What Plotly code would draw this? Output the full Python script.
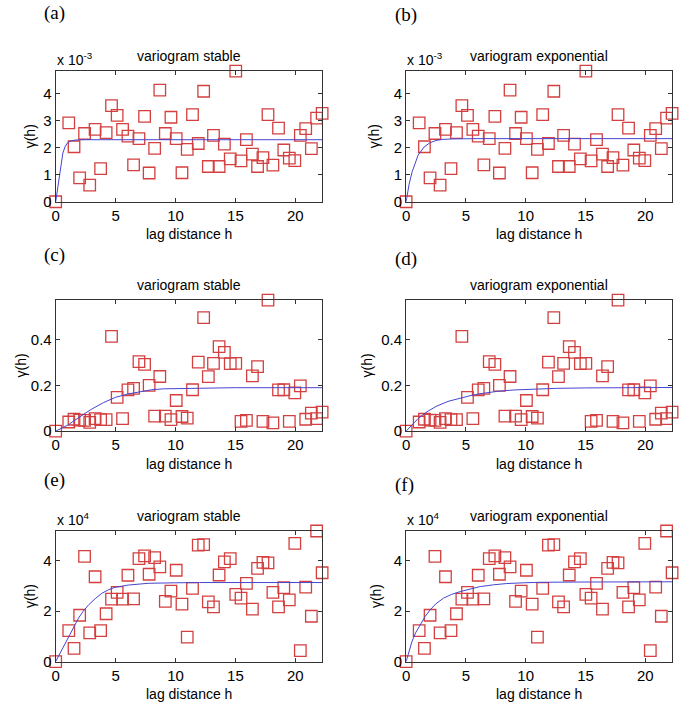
import plotly.graph_objects as go

W, H = 685, 716

# ---------------- data ----------------
lags = [0, 1.09, 1.53, 2.0, 2.41, 2.84, 3.29, 3.75, 4.21, 4.66, 5.13, 5.58, 6.03, 6.5,
        6.95, 7.42, 7.8, 8.26, 8.69, 9.15, 9.62, 10.06, 10.54, 10.98, 11.42, 11.9, 12.35,
        12.74, 13.17, 13.64, 14.08, 14.57, 15.03, 15.47, 15.92, 16.42, 16.85, 17.3, 17.72,
        18.13, 18.6, 19.04, 19.5, 19.96, 20.42, 20.87, 21.34, 21.78, 22.24]

# experimental variogram, dataset 1 (units of 1e-3)
gamma1 = [0, 2.91, 2.03, 0.88, 2.52, 0.61, 2.67, 1.22, 2.55, 3.55, 3.19, 2.67, 2.42, 1.36,
          2.33, 3.15, 1.06, 1.97, 4.12, 2.52, 3.12, 2.33, 1.07, 1.93, 3.22, 2.15, 4.08,
          1.30, 2.45, 1.30, 2.13, 1.58, 4.82, 1.51, 2.29, 1.76, 1.30, 1.63, 3.22, 1.35,
          2.72, 1.91, 1.61, 1.52, 2.45, 2.70, 1.96, 3.09, 3.26]
# dataset 2 (plain units)
gamma2 = [0, 0.040, 0.052, 0.048, 0.047, 0.038, 0.055, 0.050, 0.050, 0.414, 0.148, 0.055,
          0.180, 0.187, 0.304, 0.292, 0.200, 0.066, 0.239, 0.066, 0.050, 0.134, 0.064,
          0.057, 0.181, 0.302, 0.496, 0.238, 0.296, 0.370, 0.344, 0.295, 0.296, 0.043,
          0.047, 0.242, 0.282, 0.043, 0.573, 0.036, 0.180, 0.181, 0.043, 0.167, 0.198,
          0.052, 0.079, 0.055, 0.083]
# dataset 3 (units of 1e4)
gamma3 = [0, 1.23, 0.52, 1.84, 4.18, 1.14, 3.37, 1.23, 1.90, 2.48, 2.75, 2.48, 3.43, 2.49,
          4.09, 4.20, 3.47, 4.13, 3.76, 2.39, 2.80, 3.63, 2.28, 0.97, 2.91, 4.63, 4.65,
          2.37, 2.17, 3.44, 3.96, 4.09, 2.67, 2.52, 3.11, 2.08, 3.70, 3.94, 3.92, 2.75,
          2.17, 2.94, 2.45, 4.70, 0.43, 2.96, 1.80, 5.19, 3.53]

# fitted model curves
fit_a_x = [0, 0.2, 0.4, 0.6, 0.8, 1.0, 1.3, 1.7, 2.5, 22.24]
fit_a_y = [0, 0.65, 1.3, 1.8, 2.05, 2.18, 2.25, 2.28, 2.29, 2.29]
fit_b_x = [0, 0.25, 0.5, 0.75, 1.0, 1.5, 2.0, 2.5, 3.0, 4.0, 6.0, 22.24]
fit_b_y = [0, 0.65, 1.1, 1.45, 1.72, 2.02, 2.18, 2.26, 2.30, 2.32, 2.33, 2.33]
fit_c_x = [0, 1.0, 2.0, 2.9, 4.0, 5.0, 6.0, 7.0, 8.0, 9.0, 10.5, 12.0, 15.0, 22.24]
fit_c_y = [0, 0.026, 0.062, 0.093, 0.125, 0.148, 0.162, 0.173, 0.181, 0.185, 0.187, 0.189, 0.19, 0.19]
fit_d_x = [0, 0.5, 1.0, 1.75, 2.5, 3.5, 4.5, 5.5, 6.5, 7.8, 9.0, 10.5, 12.5, 15.0, 18.0, 22.24]
fit_d_y = [0, 0.03, 0.055, 0.085, 0.108, 0.13, 0.145, 0.157, 0.166, 0.175, 0.18, 0.184, 0.187, 0.189, 0.19, 0.191]
fit_e_x = [0, 0.5, 1.08, 1.5, 1.91, 2.3, 2.74, 3.3, 3.84, 4.4, 4.95, 6.06, 7.72, 9.93, 12.0, 22.24]
fit_e_y = [0, 0.45, 1.01, 1.38, 1.73, 2.0, 2.25, 2.5, 2.71, 2.85, 2.95, 3.04, 3.11, 3.13, 3.14, 3.14]
fit_f_x = [0, 0.25, 0.5, 0.8, 1.19, 1.6, 2.02, 2.5, 3.13, 3.8, 4.52, 5.3, 6.19, 7.3, 8.4, 9.8, 11.18, 14.0, 22.24]
fit_f_y = [0, 0.45, 0.81, 1.15, 1.47, 1.8, 2.06, 2.3, 2.52, 2.67, 2.78, 2.88, 2.98, 3.05, 3.1, 3.13, 3.15, 3.16, 3.17]

x_ticks = [0, 5, 10, 15, 20]
titles = ["variogram stable", "variogram exponential"] * 3
panel_tags = ["(a)", "(b)", "(c)", "(d)", "(e)", "(f)"]
exp_labels = ["x 10<sup>-3</sup>", "x 10<sup>-3</sup>", "", "", "x 10<sup>4</sup>", "x 10<sup>4</sup>"]
y_tick_sets = [[0, 1, 2, 3, 4], [0, 1, 2, 3, 4], [0, 0.2, 0.4], [0, 0.2, 0.4], [0, 2, 4], [0, 2, 4]]
y_tick_text = [["0", "1", "2", "3", "4"]] * 2 + [["0", "0.2", "0.4"]] * 2 + [["0", "2", "4"]] * 2

# ---------------- layout (pixel boxes) ----------------
cols = [(52, 320), (404.5, 672)]
rows = [(72, 204), (303.5, 436), (537, 669)]
ytitle_x = [27, 373, 17, 365, 26, 374]
tag_pos = [(51, 13), (404, 15), (51, 258), (404, 262), (51, 485), (403, 490)]

def fx(p):
    return p / W

def fy(p):
    return 1 - p / H

RED = "#d43f3f"
BLUE = "#4545d0"
FONT = "Liberation Sans, Arial, sans-serif"

datasets = [gamma1, gamma1, gamma2, gamma2, gamma3, gamma3]
fits = [(fit_a_x, fit_a_y), (fit_b_x, fit_b_y), (fit_c_x, fit_c_y),
        (fit_d_x, fit_d_y), (fit_e_x, fit_e_y), (fit_f_x, fit_f_y)]

fig = go.Figure()
annotations = []
layout_axes = {}

for i in range(6):
    r, c = divmod(i, 2)
    x0, x1 = cols[c]
    y0, y1 = rows[r]
    n = i + 1
    xa = "x" if n == 1 else f"x{n}"
    ya = "y" if n == 1 else f"y{n}"
    g = datasets[i]
    fxs, fys = fits[i]
    fig.add_trace(go.Scatter(x=lags, y=g, mode="markers", xaxis=xa, yaxis=ya,
                             cliponaxis=False, showlegend=False, hoverinfo="skip",
                             marker=dict(symbol="square-open", size=11.5,
                                         color=RED, line=dict(width=1.3, color=RED))))
    fig.add_trace(go.Scatter(x=fxs, y=fys, mode="lines", xaxis=xa, yaxis=ya,
                             showlegend=False, hoverinfo="skip",
                             line=dict(color=BLUE, width=1)))
    axis_common = dict(showline=True, linecolor="#333333", linewidth=1, mirror="ticks",
                       ticks="inside", ticklen=4, tickcolor="#333333", showgrid=False,
                       zeroline=False, tickfont=dict(family=FONT, size=15, color="black"))
    layout_axes["xaxis" if n == 1 else f"xaxis{n}"] = dict(
        domain=[fx(x0), fx(x1)], anchor=ya, range=[0, max(lags)],
        tickvals=x_ticks, **axis_common)
    layout_axes["yaxis" if n == 1 else f"yaxis{n}"] = dict(
        domain=[fy(y1), fy(y0)], anchor=xa, range=[0, max(g)],
        tickvals=y_tick_sets[i], ticktext=y_tick_text[i], **axis_common)

    cx = (x0 + x1) / 2
    annotations.append(dict(text=titles[i], x=fx(cx), y=fy(y0 - 5), xref="paper", yref="paper",
                            xanchor="center", yanchor="bottom", showarrow=False,
                            font=dict(family=FONT, size=14, color="black")))
    annotations.append(dict(text="lag distance h", x=fx(cx), y=fy(y1 + 33), xref="paper",
                            yref="paper", xanchor="center", yanchor="middle", showarrow=False,
                            font=dict(family=FONT, size=14, color="black")))
    annotations.append(dict(text="γ(h)", x=fx(ytitle_x[i]), y=fy((y0 + y1) / 2), xref="paper",
                            yref="paper", xanchor="center", yanchor="middle", textangle=-90,
                            showarrow=False, font=dict(family=FONT, size=14, color="black")))
    tx, ty = tag_pos[i]
    annotations.append(dict(text=panel_tags[i], x=fx(tx), y=fy(ty), xref="paper", yref="paper",
                            xanchor="center", yanchor="middle", showarrow=False,
                            font=dict(family="Liberation Serif, Times New Roman, serif",
                                      size=19, color="black")))
    if exp_labels[i]:
        annotations.append(dict(text=exp_labels[i], x=fx(x0 - 1), y=fy(y0 - 1), xref="paper",
                                yref="paper", xanchor="left", yanchor="bottom", showarrow=False,
                                font=dict(family=FONT, size=14, color="black")))

fig.update_layout(width=W, height=H, margin=dict(l=0, r=0, t=0, b=0),
                  paper_bgcolor="white", plot_bgcolor="white", hovermode=False,
                  annotations=annotations, **layout_axes)

fig.write_html("out.html", config={"displayModeBar": False, "staticPlot": True},
               post_script="document.body.style.margin='0';document.body.style.overflow='hidden';")
